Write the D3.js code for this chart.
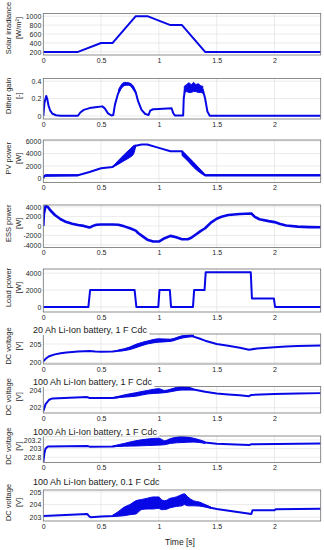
<!DOCTYPE html>
<html>
<head>
<meta charset="utf-8">
<script src="https://cdn.jsdelivr.net/npm/d3@7"></script>
<style>
  body { margin: 0; background: #fff; }
  svg { display: block; }
  .tick text { font-family: "Liberation Sans", Arial, sans-serif; font-size: 7px; fill: #262626; }
  .ylab { font-family: "Liberation Sans", Arial, sans-serif; font-size: 7.5px; fill: #262626; }
  .ptitle { font-family: "Liberation Sans", Arial, sans-serif; font-size: 9px; fill: #1a1a1a; }
</style>
</head>
<body>
<svg id="chart" width="324" height="550"></svg>
<script>
// time axis
var timeTicks = [0, 0.5, 1, 1.5, 2];

// solar irradiance [W/m2]
var irrPts = [[0,200],[0.3,200],[0.5,400],[0.6,400],[0.8,1000],[0.9,1000],[1.1,800],[1.2,800],[1.4,200],[2.4,200]];
var irrTicks = [200, 400, 600, 800, 1000];

// dither gain
var ditherPts = [[0,0],[0.01,0.15],[0.025,0.23],[0.035,0.19],[0.045,0.12],[0.06,0.06],[0.08,0.025],[0.11,0.008],[0.15,0.002],[0.3,0.002],
  [0.32,0.04],[0.35,0.07],[0.4,0.09],[0.45,0.1],[0.51,0.11],[0.53,0.09],[0.56,0.03],[0.59,0.005],[0.605,0.01],[0.62,0.13],[0.645,0.25],
  [0.67,0.32],[0.7,0.36],[0.74,0.365],[0.77,0.34],[0.8,0.27],[0.82,0.17],[0.85,0.07],[0.88,0.025],[0.91,0.01],[0.925,0.06],[0.95,0.077],
  [1.0,0.08],[1.11,0.088],[1.125,0.03],[1.14,0.005],[1.21,0.005],[1.215,0.2],[1.225,0.3],[1.3,0.32],[1.38,0.3],[1.4,0.2],[1.42,0.05],[1.44,0.003],[2.4,0.003]];
var ditherBand = [[0.65,0.26,0.3],[0.7,0.35,0.385],[0.74,0.355,0.38],[0.78,0.3,0.34],[0.8,0.26,0.28]];
var ditherNoise = [[1.22,0.26,0.34],[1.24,0.28,0.36],[1.26,0.27,0.38],[1.28,0.27,0.36],[1.3,0.28,0.385],[1.32,0.28,0.36],[1.34,0.27,0.37],[1.36,0.27,0.35],[1.38,0.26,0.34]];
var ditherTicks = [0, 0.2, 0.4];

// PV power [W]
var pvPts = [[0,0],[0.005,300],[0.02,480],[0.3,520],[0.4,1050],[0.5,1650],[0.6,1850],[0.65,2500],[0.7,3300],[0.75,4200],[0.8,5250],
  [0.85,5450],[0.9,5450],[1.0,4900],[1.1,4350],[1.2,4350],[1.3,2400],[1.4,520],[2.4,520]];
var pvBand = [[0.6,1850,1900],[0.65,2300,2900],[0.7,2850,3850],[0.75,3400,4700],[0.78,3900,5250],[0.8,5150,5350]];
var pvBand2 = [[1.2,3700,4350],[1.25,2800,3500],[1.3,1800,2600],[1.35,1000,1600],[1.4,420,560]];
var pvBase = [[0.005,200,450],[0.02,380,600],[0.3,420,620],[0.3,420,620]];
var pvBase2 = [[1.4,420,620],[2.4,420,620]];
var pvTicks = [0, 2000, 4000, 6000];

// ESS power [W]
var essPts = [[0,0],[0.005,2500],[0.02,4200],[0.04,4000],[0.06,3300],[0.1,2300],[0.15,1400],[0.2,800],[0.25,450],[0.3,200],[0.35,0],
  [0.4,-350],[0.43,0],[0.46,250],[0.5,300],[0.6,300],[0.65,250],[0.7,-100],[0.75,-500],[0.8,-1000],[0.82,-1500],[0.86,-2200],[0.9,-2900],
  [0.95,-3300],[1.0,-3300],[1.05,-2600],[1.1,-2100],[1.15,-2400],[1.2,-2800],[1.25,-2800],[1.28,-2500],[1.32,-1800],[1.36,-1100],[1.4,-500],
  [1.45,700],[1.5,1500],[1.55,2000],[1.6,2300],[1.7,2500],[1.8,2600],[1.83,1900],[1.87,1400],[1.95,1000],[2.0,800],[2.05,400],[2.1,100],
  [2.2,-150],[2.3,-250],[2.4,-300]];
var essTicks = [-4000, -2000, 0, 2000, 4000];

// load power [W]
var loadPts = [[0,0],[0.39,0],[0.405,2000],[0.79,2000],[0.805,0],[0.995,0],[1.005,2000],[1.095,2000],[1.105,0],[1.295,0],[1.305,2000],
  [1.395,2000],[1.405,4100],[1.795,4100],[1.805,1000],[1.995,1000],[2.005,0],[2.4,0]];
var loadTicks = [0, 2000, 4000];

// DC voltage, 20 Ah, 1 F
var v20Pts = [[0,200.3],[0.02,201.0],[0.05,201.7],[0.1,202.2],[0.15,202.5],[0.2,202.7],[0.3,202.95],[0.4,203.1],[0.45,202.95],[0.5,202.9],
  [0.6,202.95],[0.7,203.4],[0.8,204.4],[0.9,205.4],[1.0,205.95],[1.05,205.85],[1.1,206.0],[1.2,206.9],[1.28,207.2],[1.35,206.5],[1.4,205.9],
  [1.5,205.0],[1.6,204.5],[1.7,204.0],[1.78,203.45],[1.85,203.8],[2.0,204.1],[2.1,204.3],[2.2,204.45],[2.4,204.6]];
var v20Band = [[0.65,203.1,203.4],[0.75,203.5,204.2],[0.8,204.0,204.9],[0.9,205.0,205.8],[1.0,205.5,206.4],[1.1,205.7,206.3],[1.2,206.6,207.2],[1.3,207.0,207.4]];
var v20Ticks = [200, 205];

// DC voltage, 100 Ah, 1 F
var v100Pts = [[0,201.6],[0.02,202.4],[0.05,202.9],[0.08,203.05],[0.38,203.2],[0.4,203.1],[0.6,203.1],[0.7,203.3],[0.8,203.5],[0.9,203.75],
  [1.0,203.9],[1.05,203.8],[1.1,203.95],[1.2,204.2],[1.25,204.25],[1.3,204.05],[1.4,203.8],[1.5,203.6],[1.6,203.5],[1.7,203.4],[1.78,203.3],
  [1.8,203.45],[2.0,203.55],[2.2,203.62],[2.4,203.65]];
var v100Band = [[0.6,203.08,203.12],[0.7,203.2,203.45],[0.8,203.3,203.7],[0.9,203.55,203.95],[1.0,203.65,204.15],[1.05,203.7,203.95],[1.1,203.8,204.1],[1.2,204.0,204.4],[1.3,204.0,204.15]];
var v100Ticks = [202, 204];

// DC voltage, 1000 Ah, 1 F
var v1000Pts = [[0,202.68],[0.01,202.9],[0.02,203.0],[0.04,203.05],[0.38,203.06],[0.4,203.045],[0.6,203.05],[0.7,203.08],[0.8,203.12],
  [0.9,203.15],[1.0,203.16],[1.05,203.13],[1.1,203.16],[1.2,203.2],[1.28,203.21],[1.35,203.17],[1.4,203.14],[1.5,203.11],[1.78,203.08],
  [1.8,203.1],[2.4,203.12]];
var v1000Band = [[0.6,203.045,203.06],[0.7,203.055,203.12],[0.8,203.06,203.18],[0.9,203.07,203.22],[1.0,203.08,203.24],[1.05,203.09,203.18],
  [1.1,203.12,203.23],[1.2,203.14,203.27],[1.3,203.15,203.24],[1.4,203.12,203.16]];
var v1000Ticks = [202.8, 203, 203.2];

// DC voltage, 100 Ah, 0.1 F
var vSmallPts = [[0,203.1],[0.38,203.25],[0.4,203.05],[0.41,203.0],[0.5,203.05],[0.6,203.1],[0.7,203.45],[0.8,203.8],[0.9,204.1],[1.0,204.1],
  [1.05,203.95],[1.1,204.15],[1.2,204.35],[1.3,204.1],[1.4,203.9],[1.45,203.75],[1.5,203.65],[1.8,203.25],[1.81,203.55],[2.0,203.55],
  [2.01,203.62],[2.4,203.67]];
var vSmallBand = [[0.6,203.05,203.15],[0.65,203.08,203.45],[0.7,203.12,203.8],[0.75,203.2,204.0],[0.8,203.25,204.3],[0.85,203.6,204.4],
  [0.9,203.65,204.5],[0.95,203.65,204.6],[1.0,203.7,204.6],[1.02,203.6,204.4],[1.05,203.6,204.3],[1.1,203.75,204.5],[1.15,203.85,204.6],
  [1.2,203.9,204.8],[1.22,204.0,204.85],[1.25,203.9,204.6],[1.3,203.9,204.3],[1.35,203.88,204.2],[1.4,203.8,204.0],[1.45,203.7,203.8]];
var vSmallTicks = [203, 204, 205];

var panels = [
  {pts: irrPts, bands: [], ticks: irrTicks, dom: [130, 1060], top: 13.5, bot: 55, lab: ["Solar irradiance", "[W/m\u00b2]"], labY: 28},
  {pts: ditherPts, bands: [ditherBand, ditherNoise], ticks: ditherTicks, dom: [-0.035, 0.43], top: 78.5, bot: 119, lab: ["Dither gain", "[-]"]},
  {pts: pvPts, bands: [pvBand, pvBand2, pvBase, pvBase2], ticks: pvTicks, dom: [-640, 6160], top: 140, bot: 182.5, lab: ["PV power", "[W]"]},
  {pts: essPts, bands: [], ticks: essTicks, dom: [-4550, 4400], top: 205, bot: 247.5, lab: ["ESS power", "[W]"], w: 2.6},
  {pts: loadPts, bands: [], ticks: loadTicks, dom: [-600, 4500], top: 269, bot: 312, lab: ["Load power", "[W]"]},
  {pts: v20Pts, bands: [v20Band], ticks: v20Ticks, dom: [199.6, 207.7], top: 334, bot: 364, lab: ["DC voltage", "[V]"], title: "20 Ah Li-Ion battery, 1 F Cdc", ty: 333},
  {pts: v100Pts, bands: [v100Band], ticks: v100Ticks, dom: [201.4, 204.4], top: 386.5, bot: 413, lab: ["DC voltage", "[V]"], title: "100 Ah Li-Ion battery, 1 F Cdc", ty: 385},
  {pts: v1000Pts, bands: [v1000Band], ticks: v1000Ticks, dom: [202.68, 203.29], top: 436, bot: 462.5, lab: ["DC voltage", "[V]"], title: "1000 Ah Li-Ion battery, 1 F Cdc", ty: 434.5},
  {pts: vSmallPts, bands: [vSmallBand], ticks: vSmallTicks, dom: [202.7, 205.15], top: 490, bot: 521, lab: ["DC voltage", "[V]"], title: "100 Ah Li-Ion battery, 0.1 F Cdc", ty: 485}
];

var svg = d3.select("#chart");
var left = 43.3, right = 320.7;
var blue = "#0808e6";
var x = d3.scaleLinear().domain([0, 2.4]).range([left, right]);

panels.forEach(function(p, i) {
  var y = d3.scaleLinear().domain(p.dom).range([p.bot, p.top]);
  var g = svg.append("g");

  // grid
  g.selectAll(".vg").data(timeTicks.slice(1)).enter().append("line")
    .attr("x1", d => x(d)).attr("x2", d => x(d))
    .attr("y1", p.top).attr("y2", p.bot)
    .attr("stroke", "#e3e3e3").attr("stroke-width", 0.7);
  g.selectAll(".hg").data(p.ticks).enter().append("line")
    .attr("x1", left).attr("x2", right)
    .attr("y1", d => y(d)).attr("y2", d => y(d))
    .attr("stroke", "#e3e3e3").attr("stroke-width", 0.7);

  // clip
  var cid = "clip" + i;
  svg.append("clipPath").attr("id", cid).append("rect")
    .attr("x", left).attr("y", p.top).attr("width", right - left).attr("height", p.bot - p.top);
  var plot = g.append("g").attr("clip-path", "url(#" + cid + ")");

  var area = d3.area().x(d => x(d[0])).y0(d => y(d[1])).y1(d => y(d[2])).curve(d3.curveMonotoneX);
  p.bands.forEach(function(b) {
    plot.append("path").attr("d", area(b)).attr("fill", blue).attr("stroke", blue).attr("stroke-width", 1);
  });
  var line = d3.line().x(d => x(d[0])).y(d => y(d[1]));
  plot.append("path").attr("d", line(p.pts))
    .attr("fill", "none").attr("stroke", blue)
    .attr("stroke-width", p.w || 2).attr("stroke-linejoin", "round");

  // box
  g.append("rect").attr("x", left).attr("y", p.top).attr("width", right - left).attr("height", p.bot - p.top)
    .attr("fill", "none").attr("stroke", "#707070").attr("stroke-width", 0.8);

  // axes
  g.append("g").attr("transform", "translate(" + left + ",0)")
    .call(d3.axisLeft(y).tickValues(p.ticks).tickFormat(d => String(d)).tickSize(0).tickPadding(2))
    .call(a => a.select(".domain").remove());
  g.append("g").attr("transform", "translate(0," + p.bot + ")")
    .call(d3.axisBottom(x).tickValues(timeTicks).tickFormat(d => String(d)).tickSize(0).tickPadding(3))
    .call(a => a.select(".domain").remove());

  // y label
  var cy = p.labY || ((p.top + p.bot) / 2 - 3);
  g.append("text").attr("class", "ylab").attr("text-anchor", "middle")
    .attr("transform", "translate(11," + cy + ") rotate(-90)").text(p.lab[0]);
  g.append("text").attr("class", "ylab").attr("text-anchor", "middle")
    .attr("transform", "translate(21," + cy + ") rotate(-90)").text(p.lab[1]);

  // title, white backing hides the box edge
  if (p.title) {
    var t = g.append("text").attr("class", "ptitle").attr("x", 33).attr("y", p.ty).text(p.title);
    var bb = t.node().getBBox();
    g.insert("rect", ".ptitle").attr("x", bb.x - 1).attr("y", bb.y).attr("width", bb.width + 3).attr("height", bb.height)
      .attr("fill", "#fff");
  }
});

svg.append("text").attr("class", "ptitle").attr("x", 180).attr("y", 545).attr("text-anchor", "middle")
  .style("font-size", "8.5px").text("Time [s]");
</script>
</body>
</html>
